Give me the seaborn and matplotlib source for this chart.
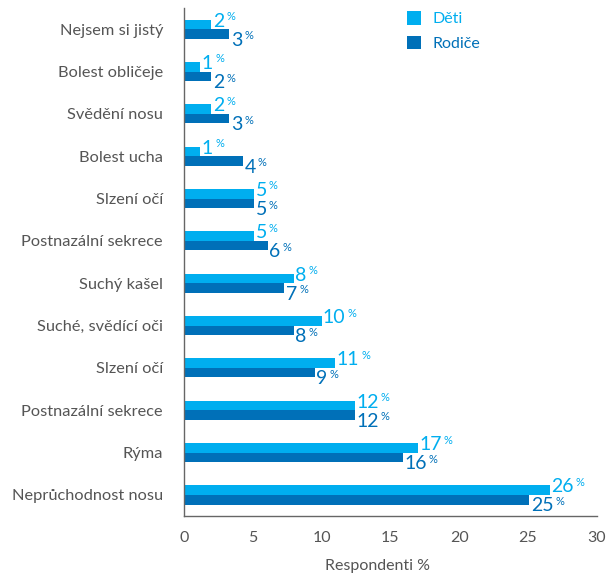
import numpy as np
import pandas as pd
import matplotlib
matplotlib.use("Agg")
import matplotlib.pyplot as plt
import seaborn as sns

# categories from top to bottom
categories = [
    "Nejsem si jistý",
    "Bolest obličeje",
    "Svědění nosu",
    "Bolest ucha",
    "Slzení očí",
    "Postnazální sekrece",
    "Suchý kašel",
    "Suché, svědící oči",
    "Slzení očí",
    "Postnazální sekrece",
    "Rýma",
    "Neprůchodnost nosu",
]
series_names = ["Děti", "Rodiče"]

# bar lengths
deti = [2.0, 1.2, 2.0, 1.2, 5.1, 5.1, 8.0, 10.0, 11.0, 12.4, 17.0, 26.6]
rodice = [3.3, 2.0, 3.3, 4.3, 5.1, 6.1, 7.3, 8.0, 9.5, 12.4, 15.9, 25.1]
# printed labels
deti_labels = [2, 1, 2, 1, 5, 5, 8, 10, 11, 12, 17, 26]
rodice_labels = [3, 2, 3, 4, 5, 6, 7, 8, 9, 12, 16, 25]

x_ticks = [0, 5, 10, 15, 20, 25, 30]

colors = ["#00aeef", "#0070b8"]
grey = "#555555"

df = pd.DataFrame({
    "pos": list(range(len(categories))) * 2,
    "series": [series_names[0]] * len(categories) + [series_names[1]] * len(categories),
    "value": deti + rodice,
})

sns.set_style("white")
plt.rcParams["font.family"] = ["Lato", "DejaVu Sans"]

fig = plt.figure(figsize=(6.09, 5.78), dpi=100)
ax = fig.add_axes([0.302, 0.107, 0.678, 0.879])

sns.barplot(data=df, x="value", y="pos", hue="series", orient="h",
            palette=colors, width=0.45, dodge=True, ax=ax, saturation=1,
            edgecolor="none", linewidth=0)

ax.set_xlim(0, 30)
ax.set_ylim(len(categories) - 0.5, -0.5)
ax.set_xticks(x_ticks)
ax.set_xticklabels([str(t) for t in x_ticks], fontsize=11.5, color=grey)
ax.set_yticks(range(len(categories)))
ax.set_yticklabels(categories, fontsize=11.8, color=grey)
ax.tick_params(axis="both", length=0)
ax.tick_params(axis="y", pad=15)
ax.tick_params(axis="x", pad=11)
ax.set_ylabel("")
ax.set_xlabel("Respondenti %", fontsize=11.5, color=grey, labelpad=10, x=0.47)

for s in ["top", "right"]:
    ax.spines[s].set_visible(False)
for s in ["left", "bottom"]:
    ax.spines[s].set_color("#666666")
    ax.spines[s].set_linewidth(1.0)

# value labels: big number plus small raised %
all_labels = [deti_labels, rodice_labels]
offsets = [2.5, -4.5]
for i, container in enumerate(ax.containers):
    for bar, lab in zip(container.patches, all_labels[i]):
        x = bar.get_width()
        y = bar.get_y() + bar.get_height() / 2
        t = ax.annotate(str(lab), xy=(x, y), xytext=(1, offsets[i]),
                        textcoords="offset points", ha="left", va="center",
                        fontsize=14, color=colors[i])
        ax.annotate("%", xy=(1, 1), xycoords=t, xytext=(1.5, 1),
                    textcoords="offset points", ha="left", va="top",
                    fontsize=8, color=colors[i])

leg = ax.legend(loc="upper left", bbox_to_anchor=(0.505, 1.022), frameon=False,
                fontsize=11.5, handlelength=0.9, handleheight=0.9,
                handletextpad=0.7, labelspacing=0.6)
for txt, c in zip(leg.get_texts(), colors):
    txt.set_color(c)

fig.savefig("out.png", dpi=100)
